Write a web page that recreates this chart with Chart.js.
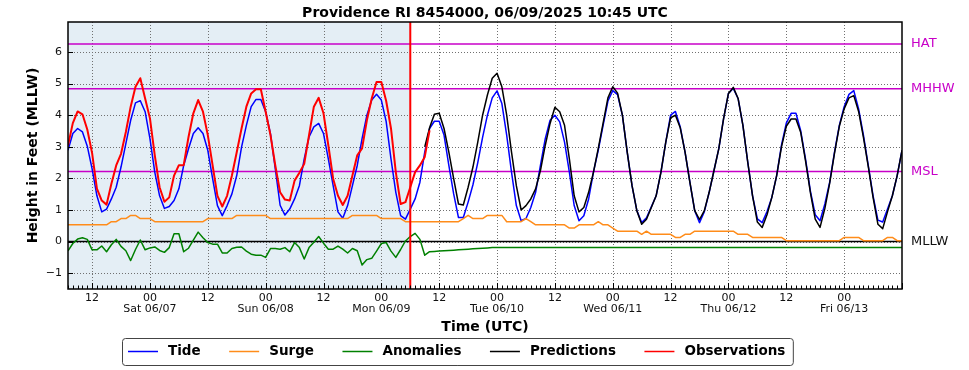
<!DOCTYPE html>
<html><head><meta charset="utf-8">
<script src="https://cdn.jsdelivr.net/npm/chart.js@4.4.0/dist/chart.umd.min.js"></script>
<style>html,body{margin:0;padding:0;background:#fff;}</style>
</head><body>
<canvas id="c" width="969" height="370"></canvas>
<script>
// ---- time axis (hours since 06/06/2025 00:00 UTC) ----
const startHour = 7;      // first sample: Fri 06/06 07:00
const endHour = 180;      // last sample: Fri 06/13 12:00
const obsStart = 7;       // observations start
const predStart = 81;     // predictions start
const nowHour = 78;       // red "now" marker
const xTickHours = [12,24,36,48,60,72,84,96,108,120,132,144,156,168];
const xTickLabels = ['12',['00','Sat 06/07'],'12',['00','Sun 06/08'],'12',['00','Mon 06/09'],'12',
                     ['00','Tue 06/10'],'12',['00','Wed 06/11'],'12',['00','Thu 06/12'],'12',['00','Fri 06/13']];
const yTicks = [-1,0,1,2,3,4,5,6];

// ---- reference datums ----
const datumNames  = ['HAT','MHHW','MSL','MLLW'];
const datumLevels = [6.25, 4.84, 2.22, 0];

// ---- series (hourly) ----
const tide = [
 2.89,3.42,3.58,3.47,3.02,2.30,1.45,0.94,1.03,1.35,1.72,2.36,
 3.10,3.84,4.39,4.46,4.11,3.26,2.20,1.45,1.05,1.11,1.30,1.67,
 2.41,2.94,3.42,3.60,3.42,2.89,1.99,1.14,0.82,1.14,1.51,2.09,
 2.99,3.68,4.27,4.50,4.50,4.11,3.42,2.30,1.15,0.84,1.03,1.35,
 1.77,2.62,3.31,3.63,3.74,3.42,2.62,1.77,0.94,0.74,1.14,1.77,
 2.41,3.26,4.00,4.48,4.66,4.48,3.80,2.62,1.56,0.82,0.71,1.03,
 1.35,1.88,2.83,3.58,3.81,3.81,3.37,2.41,1.51,0.76,0.76,1.25,
 1.80,2.50,3.30,4.00,4.55,4.77,4.37,3.37,2.20,1.14,0.66,0.73,
 1.08,1.56,2.41,3.26,3.84,4.00,3.79,3.15,2.20,1.14,0.66,0.82,
 1.35,2.20,2.90,3.68,4.45,4.78,4.65,4.00,2.83,1.77,0.98,0.60,
 0.75,1.10,1.45,2.20,3.15,4.00,4.12,3.63,2.83,1.88,0.98,0.60,
 0.95,1.56,2.25,2.94,3.90,4.69,4.85,4.53,3.68,2.52,1.45,0.72,
 0.60,0.95,1.40,2.09,3.05,3.75,4.06,4.06,3.50,2.60,1.60,0.85,
 0.66,1.19,1.88,2.83,3.68,4.27,4.66,4.78,4.20,3.37,2.41,1.45,
 0.68,0.62,1.03,1.45,2.09,2.89
];
const surge = [
 0.53,0.53,0.53,0.53,0.53,0.53,0.53,0.53,0.53,0.63,0.63,0.73,
 0.73,0.83,0.83,0.73,0.73,0.73,0.63,0.63,0.63,0.63,0.63,0.63,
 0.63,0.63,0.63,0.63,0.63,0.73,0.73,0.73,0.73,0.73,0.73,0.83,
 0.83,0.83,0.83,0.83,0.83,0.83,0.73,0.73,0.73,0.73,0.73,0.73,
 0.73,0.73,0.73,0.73,0.73,0.73,0.73,0.73,0.73,0.73,0.73,0.83,
 0.83,0.83,0.83,0.83,0.83,0.73,0.73,0.73,0.73,0.73,0.63,0.63,
 0.63,0.63,0.63,0.63,0.63,0.63,0.63,0.63,0.63,0.63,0.73,0.83,
 0.73,0.73,0.73,0.83,0.83,0.83,0.83,0.63,0.63,0.63,0.63,0.73,
 0.63,0.53,0.53,0.53,0.53,0.53,0.53,0.53,0.43,0.43,0.53,0.53,
 0.53,0.53,0.63,0.53,0.53,0.43,0.33,0.33,0.33,0.33,0.33,0.23,
 0.33,0.23,0.23,0.23,0.23,0.23,0.13,0.13,0.23,0.23,0.33,0.33,
 0.33,0.33,0.33,0.33,0.33,0.33,0.33,0.23,0.23,0.23,0.13,0.13,
 0.13,0.13,0.13,0.13,0.13,0.03,0.03,0.03,0.03,0.03,0.03,0.03,
 0.03,0.03,0.03,0.03,0.03,0.13,0.13,0.13,0.13,0.03,0.03,0.03,
 0.03,0.03,0.13,0.13,0.03,0.03
];
const anomalies = [
 -0.29,-0.06,0.08,0.12,0.07,-0.26,-0.26,-0.14,-0.32,-0.10,0.07,-0.15,
 -0.29,-0.60,-0.25,0.05,-0.26,-0.20,-0.17,-0.28,-0.34,-0.19,0.25,0.25,
 -0.32,-0.21,0.05,0.30,0.12,-0.03,-0.08,-0.08,-0.36,-0.36,-0.22,-0.18,
 -0.17,-0.30,-0.40,-0.43,-0.43,-0.50,-0.22,-0.22,-0.24,-0.19,-0.32,-0.03,
 -0.19,-0.55,-0.19,-0.02,0.16,-0.05,-0.24,-0.24,-0.14,-0.24,-0.36,-0.22,
 -0.29,-0.74,-0.57,-0.53,-0.30,-0.06,-0.03,-0.30,-0.50,-0.25,0.02,0.16,
 0.26,0.07,-0.43,-0.32,-0.31,-0.30,-0.29,-0.28,-0.27,-0.26,-0.25,-0.24,
 -0.23,-0.22,-0.21,-0.20,-0.19,-0.19,-0.19,-0.19,-0.19,-0.19,-0.19,-0.19,
 -0.19,-0.19,-0.19,-0.19,-0.19,-0.19,-0.19,-0.19,-0.19,-0.19,-0.19,-0.19,
 -0.19,-0.19,-0.19,-0.19,-0.19,-0.19,-0.19,-0.19,-0.19,-0.19,-0.19,-0.19,
 -0.19,-0.19,-0.19,-0.19,-0.19,-0.19,-0.19,-0.19,-0.19,-0.19,-0.19,-0.19,
 -0.19,-0.19,-0.19,-0.19,-0.19,-0.19,-0.19,-0.19,-0.19,-0.19,-0.19,-0.19,
 -0.19,-0.19,-0.19,-0.19,-0.19,-0.19,-0.19,-0.19,-0.19,-0.19,-0.19,-0.19,
 -0.19,-0.19,-0.19,-0.19,-0.19,-0.19,-0.19,-0.19,-0.19,-0.19,-0.19,-0.19,
 -0.19,-0.19,-0.19,-0.19,-0.19,-0.19
];
const observations = [
 3.04,3.75,4.12,4.03,3.55,2.80,1.68,1.30,1.17,1.83,2.41,2.78,
 3.47,4.27,4.90,5.17,4.53,3.90,2.73,1.72,1.26,1.40,2.09,2.42,
 2.42,3.31,4.06,4.48,4.11,3.37,2.41,1.45,1.11,1.45,2.09,2.83,
 3.58,4.27,4.69,4.82,4.82,4.11,3.37,2.41,1.56,1.33,1.30,1.93,
 2.18,2.46,3.37,4.27,4.55,4.06,3.05,1.99,1.45,1.16,1.45,2.09,
 2.73,2.95,3.84,4.53,5.05,5.05,4.45,3.58,2.20,1.19,1.25,1.72,
 2.20,2.41,2.68,3.52
];
const predictions = [
 3.00,3.60,4.03,4.06,3.58,2.83,1.99,1.19,1.16,1.72,2.36,3.15,
 4.00,4.64,5.17,5.33,4.90,4.00,2.83,1.77,1.00,1.14,1.35,1.67,
 2.25,3.05,3.74,4.25,4.11,3.68,2.62,1.45,0.94,1.08,1.56,2.20,
 2.95,3.75,4.55,4.90,4.70,4.00,2.83,1.77,0.98,0.55,0.71,1.08,
 1.45,2.20,3.15,3.92,4.00,3.60,2.83,1.88,0.98,0.70,0.98,1.56,
 2.25,2.94,3.90,4.69,4.88,4.53,3.68,2.52,1.45,0.62,0.45,0.85,
 1.40,2.09,3.00,3.65,3.88,3.88,3.45,2.55,1.55,0.71,0.45,1.05,
 1.85,2.80,3.65,4.20,4.55,4.62,4.12,3.30,2.38,1.40,0.55,0.41,
 0.95,1.45,2.09,2.89
];

// ---- build {x,y} points from the arrays ----
const pts = (arr, h0) => arr.map((v, i) => ({x: h0 + i, y: v}));

const FONT = '"DejaVu Sans", sans-serif';
const MAGENTA = '#c800c8';
const datumColors = [MAGENTA, MAGENTA, MAGENTA, '#000000'];

const deco = {
  id: 'deco',
  beforeDatasetsDraw(chart) {
    const {ctx, chartArea: a, scales: {x, y}} = chart;
    ctx.save();
    const xn = x.getPixelForValue(nowHour);
    ctx.fillStyle = '#e4eef5';
    ctx.fillRect(a.left, a.top, xn - a.left, a.bottom - a.top);
    // dotted grid
    ctx.strokeStyle = '#707070';
    ctx.lineWidth = 1;
    ctx.setLineDash([1, 2]);
    for (const h of xTickHours) {
      const px = Math.round(x.getPixelForValue(h)) + 0.5;
      ctx.beginPath(); ctx.moveTo(px, a.top); ctx.lineTo(px, a.bottom); ctx.stroke();
    }
    for (const v of yTicks) {
      const py = Math.round(y.getPixelForValue(v)) + 0.5;
      ctx.beginPath(); ctx.moveTo(a.left, py); ctx.lineTo(a.right, py); ctx.stroke();
    }
    ctx.setLineDash([]);
    // datum lines
    datumLevels.forEach((lv, i) => {
      const py = y.getPixelForValue(lv);
      ctx.strokeStyle = datumColors[i];
      ctx.lineWidth = 1.5;
      ctx.beginPath(); ctx.moveTo(a.left, py); ctx.lineTo(a.right, py); ctx.stroke();
    });
    ctx.restore();
  },
  afterDatasetsDraw(chart) {
    const {ctx, chartArea: a, scales: {x, y}} = chart;
    ctx.save();
    const xn = x.getPixelForValue(nowHour);
    ctx.strokeStyle = '#ff0000';
    ctx.lineWidth = 2;
    ctx.beginPath(); ctx.moveTo(xn, a.top); ctx.lineTo(xn, a.bottom); ctx.stroke();
    // inward ticks
    ctx.strokeStyle = '#000';
    ctx.lineWidth = 1;
    for (let h = startHour; h <= endHour; h++) {
      const px = Math.round(x.getPixelForValue(h)) + 0.5;
      const len = (h % 12 === 0) ? 6 : 3.5;
      ctx.beginPath(); ctx.moveTo(px, a.bottom); ctx.lineTo(px, a.bottom - len); ctx.stroke();
    }
    for (const v of yTicks) {
      const py = Math.round(y.getPixelForValue(v)) + 0.5;
      ctx.beginPath(); ctx.moveTo(a.left, py); ctx.lineTo(a.left + 5, py); ctx.stroke();
    }
    // frame
    ctx.lineWidth = 1.5;
    ctx.strokeRect(a.left, a.top, a.right - a.left, a.bottom - a.top);
    ctx.restore();
  },
  afterDraw(chart) {
    const {ctx, chartArea: a, scales: {y}} = chart;
    ctx.save();
    ctx.fillStyle = '#000';
    ctx.textAlign = 'center';
    ctx.textBaseline = 'middle';
    ctx.font = 'bold 14px ' + FONT;
    ctx.fillText('Providence RI 8454000, 06/09/2025 10:45 UTC', (a.left + a.right) / 2, 13.5);
    ctx.fillText('Time (UTC)', (a.left + a.right) / 2, 327);
    ctx.save();
    ctx.translate(33, (a.top + a.bottom) / 2);
    ctx.rotate(-Math.PI / 2);
    ctx.fillText('Height in Feet (MLLW)', 0, 0);
    ctx.restore();
    // datum labels
    ctx.textAlign = 'left';
    ctx.font = '13px ' + FONT;
    datumNames.forEach((n, i) => {
      ctx.fillStyle = i < 3 ? MAGENTA : '#111';
      ctx.fillText(n, 911, y.getPixelForValue(datumLevels[i]));
    });
    // legend
    const ds = chart.data.datasets;
    ctx.font = 'bold 13.5px ' + FONT;
    const ly = 351.5;
    let widths = ds.map(d => ctx.measureText(d.label).width);
    let xx = 128;
    const pos = [];
    ds.forEach((d, i) => { pos.push(xx); xx += 40 + widths[i] + 28.5; });
    const boxL = 122.5, boxR = xx - 28.5 + 8;
    ctx.beginPath();
    ctx.roundRect(boxL, 338.5, boxR - boxL, 27, 3);
    ctx.fillStyle = '#fff';
    ctx.fill();
    ctx.strokeStyle = '#444';
    ctx.lineWidth = 1;
    ctx.stroke();
    ds.forEach((d, i) => {
      ctx.strokeStyle = d.borderColor;
      ctx.lineWidth = 1.5;
      ctx.beginPath(); ctx.moveTo(pos[i], ly); ctx.lineTo(pos[i] + 30, ly); ctx.stroke();
      ctx.fillStyle = '#000';
      ctx.fillText(d.label, pos[i] + 40, ly);
    });
    ctx.restore();
  }
};

new Chart(document.getElementById('c'), {
  type: 'line',
  data: {
    datasets: [
      {label: 'Tide', data: pts(tide, startHour), borderColor: '#0000ff', borderWidth: 1.5, order: 5},
      {label: 'Surge', data: pts(surge, startHour), borderColor: '#ff8c1a', borderWidth: 1.5, order: 4},
      {label: 'Anomalies', data: pts(anomalies, startHour), borderColor: '#008000', borderWidth: 1.5, order: 3},
      {label: 'Predictions', data: pts(predictions, predStart), borderColor: '#000000', borderWidth: 1.5, order: 2},
      {label: 'Observations', data: pts(observations, obsStart), borderColor: '#ff0000', borderWidth: 2, order: 1}
    ]
  },
  options: {
    responsive: false,
    animation: false,
    devicePixelRatio: 1,
    layout: {padding: {left: 0, right: 67, top: 22, bottom: 0}},
    plugins: {legend: {display: false}, title: {display: false}, tooltip: {enabled: false}},
    elements: {point: {radius: 0}, line: {tension: 0, borderJoinStyle: 'round', fill: false}},
    scales: {
      x: {
        type: 'linear', min: startHour, max: endHour,
        grid: {display: false, drawTicks: false}, border: {display: false},
        afterBuildTicks: s => { s.ticks = xTickHours.map(v => ({value: v})); },
        afterFit: s => { s.height = 81; },
        ticks: {autoSkip: false, maxRotation: 0, padding: 4, color: '#111',
                font: {family: FONT, size: 11, lineHeight: 1.0},
                callback: (v, i) => xTickLabels[i]}
      },
      y: {
        type: 'linear', min: -1.5, max: 6.95,
        grid: {display: false, drawTicks: false}, border: {display: false},
        afterBuildTicks: s => { s.ticks = yTicks.map(v => ({value: v})); },
        afterFit: s => { s.width = 68; },
        ticks: {padding: 6, color: '#111', font: {family: FONT, size: 11},
                callback: v => v < 0 ? '\u2212' + Math.abs(v) : String(v)}
      }
    }
  },
  plugins: [deco]
});
</script>
</body></html>
